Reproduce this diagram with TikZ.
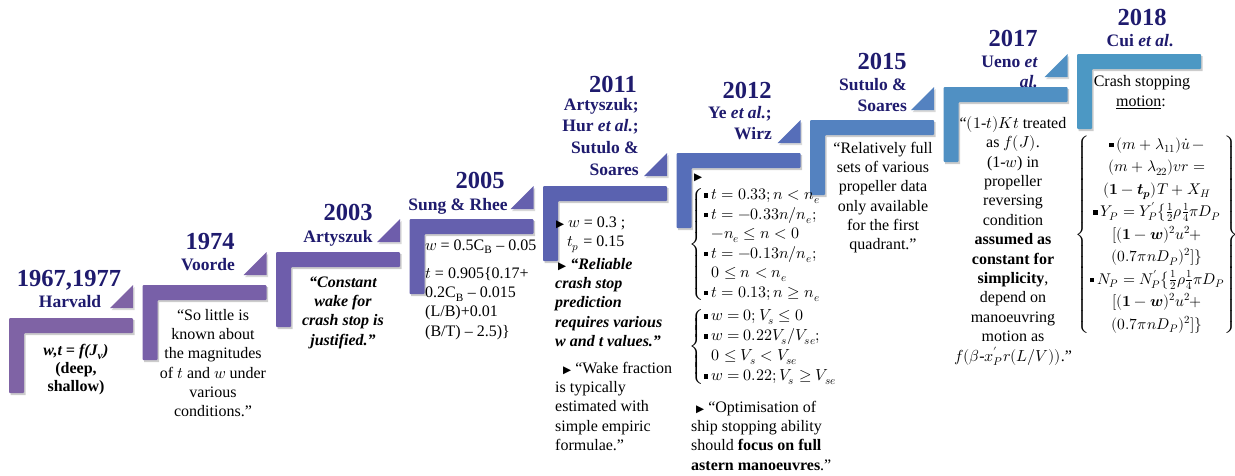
\documentclass[tikz,border=0pt]{standalone}
\usepackage{amsmath}
\usepackage{fontspec}
\usepackage{unicode-math}
\setmainfont{Liberation Serif}
\newfontfamily\symf{DejaVu Sans}
\definecolor{c1}{HTML}{7F63A5}
\definecolor{c2}{HTML}{7860A8}
\definecolor{c3}{HTML}{6E5DAB}
\definecolor{c4}{HTML}{6560AE}
\definecolor{c5}{HTML}{5A62B0}
\definecolor{c6}{HTML}{566EB9}
\definecolor{c7}{HTML}{5482C0}
\definecolor{c8}{HTML}{5090C3}
\definecolor{c9}{HTML}{4C98C4}
\definecolor{navy}{HTML}{1F1B6E}
\newcommand\tri{{\symf\fontsize{10.5}{10}\selectfont ▶}}
\newcommand\sqb{\raisebox{2pt}{\rule{4.5pt}{4.5pt}}\hspace{3pt}}
\tikzset{
  yearlbl/.style={font=\fontsize{24.5}{26}\selectfont\bfseries, text=navy, inner sep=0, anchor=base},
  auth/.style={font=\fontsize{17.5}{21.7}\selectfont\bfseries, text=navy, inner sep=0},
  body/.style={font=\fontsize{16}{19.3}\selectfont, inner sep=0, anchor=north},
  mathblk/.style={font=\fontsize{16}{20}\selectfont, inner sep=0}
}
\begin{document}
\begin{tikzpicture}[x=1pt,y=-1pt]
\useasboundingbox[fill=white] (0,0) rectangle (1235,475);
% steps
\foreach \i/\c in {0/c1,1/c2,2/c3,3/c4,4/c5,5/c6,6/c7,7/c8,8/c9} {
  \pgfmathsetmacro\xo{9+133.5*\i}
  \pgfmathsetmacro\yo{318-33*\i}
  \begin{scope}[shift={(\xo,\yo)}]
    \fill[black,opacity=.2] (1.5,2) -- (125.5,2) -- (125.5,17) -- (16.5,17) -- (16.5,77) -- (1.5,77) -- cycle;
    \fill[\c, rounded corners=1pt] (0,0) -- (124,0) -- (124,15) -- (15,15) -- (15,75) -- (0,75) -- cycle;
    \ifnum\i<8
      \fill[black,opacity=.15] (102.5,-8) -- (125.5,-8) -- (125.5,-31) -- cycle;
      \fill[\c] (101,-10) -- (124,-10) -- (124,-33) -- cycle;
    \fi
  \end{scope}
}
% ---- 1967,1977
\node[yearlbl] (y1) at (69,286) {1967,1977};
\node[auth, anchor=base] (n1) at (70,307) {Harvald};
\node[body, font=\fontsize{16}{18}\selectfont\bfseries, align=center] (b1) at (76,342.4)
  {\strut\textit{w,t = f(J\textsubscript{v})}\\(deep,\\shallow)};
% ---- 1974
\node[yearlbl] (y2) at (210,249) {1974};
\node[auth, anchor=base] (n2) at (208,270) {Voorde};
\node[body, align=center] (b2) at (213,306.5)
  {\strut“So little is\\known about\\the magnitudes\\of $t$ and $w$ under\\various\\conditions.”};
% ---- 2003
\node[yearlbl] (y3) at (348,220) {2003};
\node[auth, anchor=base] (n3) at (338,242) {Artyszuk};
\node[body, font=\fontsize{16}{19.3}\selectfont\bfseries\itshape, align=center] (b3) at (343,273.5)
  {\strut“Constant\\wake for\\crash stop is\\justified.”};
% ---- 2005
\node[yearlbl] (y4) at (480,188) {2005};
\node[auth, anchor=base] (n4) at (458,210) {Sung \& Rhee};
\node[body, anchor=base west] (b4a) at (425,250) {$w$ = 0.5C\textsubscript{B} -- 0.05};
\node[body, anchor=north west, align=left] (b4b) at (425,264.5)
  {\strut$t$ = 0.905\{0.17+\\0.2C\textsubscript{B} -- 0.015\\(L/B)+0.01\\(B/T) -- 2.5)\}};
% ---- 2011
\node[yearlbl] (y5) at (613,92) {2011};
\node[auth, anchor=north east, align=right] (n5) at (639,94.8)
  {\strut Artyszuk;\\Hur \textit{et al.};\\Sutulo \&\\Soares};
\node[body, anchor=north west, align=left] (b5a) at (556,213.5)
  {\strut\tri\ $w$ = 0.3 ;\\\hspace*{11pt}$t_p$ = 0.15};
\node[body, anchor=north west, align=left, font=\fontsize{16}{19.3}\selectfont\bfseries\itshape] (b5b) at (555,255.5)
  {\strut\hspace*{3pt}\tri\ “Reliable\\crash stop\\prediction\\requires various\\w and t values.”};
\node[body, anchor=north west, align=left] (b5c) at (555,359.5)
  {\strut\hspace*{8pt}\tri\ “Wake fraction\\is typically\\estimated with\\simple empiric\\formulae.”};
% ---- 2012
\node[yearlbl] (y6) at (747,98) {2012};
\node[auth, anchor=north east, align=right] (n6) at (772,102.8)
  {\strut Ye \textit{et al.};\\Wirz};
\node[body, anchor=base west] (b6t) at (694,180) {\tri};
\node[mathblk, anchor=west] (b6a) at (689,244.5)
  {$\left\{\vcenter{\hbox{\fontsize{16}{19.5}\selectfont\begin{tabular}{@{}l@{}}
   \sqb $t=0.33; n<n_e$\\
   \sqb $t=-0.33n/n_e;$\\
   \hspace*{8pt}$-n_e\le n<0$\\
   \sqb $t=-0.13n/n_e;$\\
   \hspace*{8pt}$0\le n<n_e$\\
   \sqb $t=0.13; n\ge n_e$
  \end{tabular}}}\right.$};
\node[mathblk, anchor=west] (b6b) at (689,346.5)
  {$\left\{\vcenter{\hbox{\fontsize{16}{20}\selectfont\begin{tabular}{@{}l@{}}
   \sqb $w=0; V_s\le 0$\\
   \sqb $w=0.22V_s/V_{se};$\\
   \hspace*{8pt}$0\le V_s<V_{se}$\\
   \sqb $w=0.22; V_s\ge V_{se}$
  \end{tabular}}}\right.$};
\node[body, anchor=north west, align=left] (b6c) at (691,398.5)
  {\strut\hspace*{5pt}\tri\ “Optimisation of\\ship stopping ability\\should \textbf{focus on full}\\\textbf{astern manoeuvres}.”};
% ---- 2015
\node[yearlbl] (y7) at (882,69) {2015};
\node[auth, anchor=north east, align=right] (n7) at (907,74.8)
  {\strut Sutulo \&\\Soares};
\node[body, align=center] (b7) at (883,139.5)
  {\strut“Relatively full\\sets of various\\propeller data\\only available\\for the first\\quadrant.”};
% ---- 2017
\node[yearlbl] (y8) at (1013,46) {2017};
\node[auth, anchor=north east, align=right, font=\fontsize{17.5}{20}\selectfont\bfseries] (n8) at (1038,53)
  {\strut Ueno \textit{et}\\\textit{al.}};
\node[body, align=center, font=\fontsize{16}{19.4}\selectfont] (b8) at (1013,114.5)
  {\strut“$(1\mbox{-}t)Kt$ treated\\as $f(J)$.\\(1-$w$) in\\propeller\\reversing\\condition\\\textbf{assumed as}\\\textbf{constant for}\\\textbf{simplicity},\\depend on\\manoeuvring\\motion as\\$f(\beta\mbox{-}x'_Pr(L/V))$.”};
% ---- 2018
\node[yearlbl] (y9) at (1142,25) {2018};
\node[auth, anchor=base] (n9) at (1140,46) {Cui \textit{et al}.};
\node[body, anchor=base] (b9a) at (1142,86) {Crash stopping};
\node[body, anchor=base] (b9b) at (1141,106) {\underline{motion}:};
\node[mathblk, anchor=center, font=\fontsize{15.5}{20}\selectfont] (b9c) at (1157,234.5)
  {$\left\{\vcenter{\hbox{\fontsize{15.5}{22.5}\selectfont\begin{tabular}{@{}c@{}}
   \sqb $(m+\lambda_{11})\dot u\,-$\\
   $(m+\lambda_{22})vr=$\\
   $\symbf{(1-}\symbfit{t_p}\symbf{)}T+X_H$\\
   \sqb $Y_P=Y'_P\bigl\{\tfrac12\rho\tfrac14\pi D_P$\\
   $[(\symbf{1}-\symbfit{w})^2u^2+$\\
   $(0.7\pi nD_P)^2]\}$\\
   \sqb $N_P=N'_P\bigl\{\tfrac12\rho\tfrac14\pi D_P$\\
   $[(\symbf{1}-\symbfit{w})^2u^2+$\\
   $(0.7\pi nD_P)^2]\}$
  \end{tabular}}}\right\}$};
\end{tikzpicture}
\end{document}
